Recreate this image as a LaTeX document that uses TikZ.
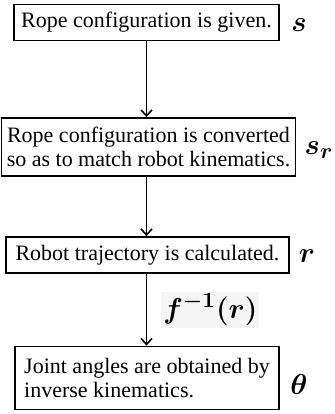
\documentclass[tikz,border=0pt]{standalone}
\usepackage{fontspec}
\setmainfont{Liberation Serif}
\usepackage{amsmath,bm}
\usetikzlibrary{arrows.meta}

\tikzset{
  stepbox/.style={draw, line width=0.9pt, inner sep=2pt, font=\fontsize{11}{12}\selectfont},
  varlabel/.style={font=\fontsize{15}{17}\selectfont, inner sep=1pt},
}

\begin{document}
\begin{tikzpicture}[x=0.5pt, y=-0.5pt, >={Straight Barb[length=3pt,width=5.5pt]}]
      \useasboundingbox (0,0) rectangle (335,414);
      \node[stepbox, minimum width=132.5pt, minimum height=18pt] (given) at (146.5,22.5) {Rope configuration is given.};
      \node[stepbox, minimum width=147pt, minimum height=29pt, align=center] (converted) at (148.5,147) {Rope configuration is converted\\so as to match robot kinematics.};
      \node[stepbox, minimum width=141.5pt, minimum height=18pt] (trajectory) at (147.5,255) {Robot trajectory is calculated.};
      \node[stepbox, minimum width=132pt, minimum height=31.5pt, align=left] (joint) at (147,378) {Joint angles are obtained by\\inverse kinematics.};
      \draw[line width=0.8pt, ->] (given.south) -- (given.south |- converted.north);
      \draw[line width=0.8pt, ->] (given.south |- converted.south) -- (given.south |- trajectory.north);
      \draw[line width=0.8pt, ->] (given.south |- trajectory.south) -- (given.south |- joint.north)
        node[midway, right=7pt, varlabel, fill=black!4] (inverse) {$\boldsymbol{f^{-1}(r)}$};
      \node[varlabel] (s) at (299,25) {$\boldsymbol{s}$};
      \node[varlabel] (sr) at (319,150) {$\boldsymbol{s_r}$};
      \node[varlabel] (r) at (307,256) {$\boldsymbol{r}$};
      \node[varlabel] (theta) at (299,384) {$\boldsymbol{\theta}$};
    \end{tikzpicture}
\end{document}
